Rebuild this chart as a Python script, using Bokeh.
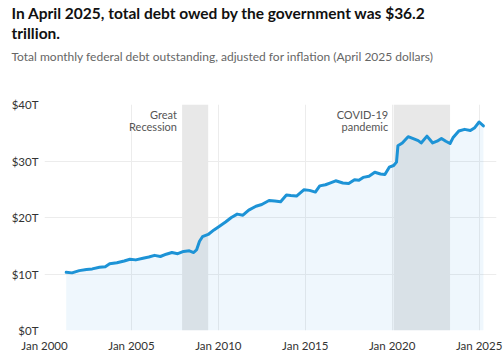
import pandas as pd
from bokeh.plotting import figure
from bokeh.models import Label, Title, FixedTicker, DatetimeTickFormatter, CustomJSTickFormatter, Range1d
from bokeh.embed import file_html
from bokeh.resources import INLINE

# ---- data ----
dates = ["2001-04", "2001-08", "2002-01", "2002-06", "2002-10", "2003-03", "2003-07", "2003-10",
         "2004-03", "2004-08", "2004-12", "2005-04", "2005-09", "2006-01", "2006-05", "2006-09",
         "2007-01", "2007-05", "2007-09", "2008-01", "2008-05", "2008-08", "2008-10", "2008-12",
         "2009-02", "2009-06", "2009-10", "2010-02", "2010-06", "2010-10", "2011-02", "2011-06",
         "2011-10", "2012-03", "2012-07", "2012-12", "2013-04", "2013-08", "2013-12", "2014-03",
         "2014-07", "2014-12", "2015-04", "2015-08", "2015-11", "2016-03", "2016-06", "2016-10",
         "2017-03", "2017-07", "2017-11", "2018-02", "2018-05", "2018-09", "2019-01", "2019-05",
         "2019-08", "2019-11", "2020-02", "2020-04", "2020-05", "2020-08", "2020-12", "2021-04",
         "2021-07", "2021-09", "2022-01", "2022-03", "2022-05", "2022-08", "2022-11", "2023-02",
         "2023-05", "2023-07", "2023-11", "2024-03", "2024-07", "2024-10", "2025-01", "2025-04"]
debt_trillions = [10.3, 10.2, 10.6, 10.8, 10.9, 11.2, 11.3, 11.8,
                  12.0, 12.3, 12.6, 12.5, 12.8, 13.0, 13.3, 13.1,
                  13.5, 13.8, 13.6, 14.0, 14.1, 13.8, 14.3, 15.8,
                  16.6, 17.0, 17.8, 18.5, 19.2, 20.0, 20.6, 20.4,
                  21.3, 22.0, 22.3, 23.0, 22.9, 22.8, 24.0, 23.9,
                  23.8, 24.9, 24.8, 24.5, 25.6, 25.8, 26.1, 26.5,
                  26.1, 26.0, 26.7, 26.6, 27.1, 27.3, 28.0, 27.7,
                  27.6, 28.9, 29.2, 29.8, 32.7, 33.2, 34.3, 33.9,
                  33.6, 33.2, 34.4, 33.8, 33.2, 33.5, 34.0, 33.5,
                  33.1, 34.1, 35.3, 35.6, 35.4, 35.9, 36.9, 36.2]

shade_names = ["Great\nRecession", "COVID-19\npandemic"]
shade_start = ["2007-12", "2020-02"]
shade_end = ["2009-06", "2023-05"]

y_ticks = [0, 10, 20, 30, 40]
x_tick_years = ["2000-01", "2005-01", "2010-01", "2015-01", "2020-01", "2025-01"]

title_lines = ["In April 2025, total debt owed by the government was $36.2", "trillion."]
subtitle = "Total monthly federal debt outstanding, adjusted for inflation (April 2025 dollars)"

# ---- build ----
x = pd.to_datetime(dates)
s0 = pd.to_datetime(shade_start)
s1 = pd.to_datetime(shade_end)
FONT = "Lato"

p = figure(width=503, height=354, x_axis_type="datetime", output_backend="svg",
           toolbar_location=None, tools="",
           x_range=Range1d(pd.Timestamp("2000-01-01"), pd.Timestamp("2026-01-01")),
           y_range=Range1d(0, 40),
           min_border_left=44, min_border_right=7, min_border_top=0, min_border_bottom=24)
p.outline_line_color = None
p.background_fill_color = "white"
p.border_fill_color = "white"

# titles (first added sits closest to the frame)
p.add_layout(Title(text=" ", text_font=FONT, text_font_size="1px", standoff=30.6), "above")
p.add_layout(Title(text=subtitle, text_font=FONT, text_font_size="12px", text_color="#666666",
                   text_font_style="normal", align="left", offset=-33, standoff=13), "above")
p.add_layout(Title(text=title_lines[1], text_font=FONT, text_font_size="15.5px", text_color="#111111",
                   text_font_style="bold", align="left", offset=-33, standoff=-2.6), "above")
p.add_layout(Title(text=title_lines[0], text_font=FONT, text_font_size="15.5px", text_color="#111111",
                   text_font_style="bold", align="left", offset=-33, standoff=2.6), "above")

# shaded periods
p.quad(left=s0, right=s1, bottom=0, top=40, fill_color="#e8e8e8", line_color=None)

# area + line
p.varea(x=x, y1=0, y2=debt_trillions, fill_color="#1e90e0", fill_alpha=0.07)
p.line(x=x, y=debt_trillions, line_color="#1d93d6", line_width=3, line_join="round", line_cap="round")

# axes
ms = [pd.Timestamp(t).value // 10**6 for t in x_tick_years]
p.xaxis.ticker = FixedTicker(ticks=ms)
p.xaxis.formatter = DatetimeTickFormatter(years="Jan %Y", months="Jan %Y", days="Jan %Y")
p.yaxis.ticker = FixedTicker(ticks=y_ticks)
p.yaxis.formatter = CustomJSTickFormatter(code="return '$' + tick + 'T';")
for ax in (p.xaxis[0], p.yaxis[0]):
    ax.axis_line_color = None
    ax.major_tick_line_color = None
    ax.minor_tick_line_color = None
    ax.major_tick_out = 0
    ax.major_tick_in = 0
    ax.minor_tick_out = 0
    ax.minor_tick_in = 0
    ax.major_label_text_font = FONT
    ax.major_label_text_font_size = "11.5px"
    ax.major_label_text_color = "#333333"
p.xaxis.major_label_standoff = 8
p.yaxis.major_label_standoff = 6

p.xgrid.grid_line_color = "#ececec"
p.ygrid.grid_line_color = "#ececec"
p.xgrid.ticker = FixedTicker(ticks=ms)

# period labels (screen units relative to the frame: left=44, bottom=330)
def lab(text, X, Y, size, color, align="left"):
    p.add_layout(Label(x=X - 44, y=330 - Y, x_units="screen", y_units="screen", text=text,
                       text_font=FONT, text_font_size=size, text_color=color,
                       text_align=align, text_baseline="middle"))

for name, start in zip(shade_names, s0):
    l1, l2 = name.split("\n")
    xx = (start - pd.Timestamp("2000-01-01")).days / 365.25 * 17.36 + 44 - 5
    lab(l1, xx, 114, "11px", "#555555", align="right")
    lab(l2, xx, 126, "11px", "#555555", align="right")

open("out.html", "w").write(file_html(p, INLINE))
